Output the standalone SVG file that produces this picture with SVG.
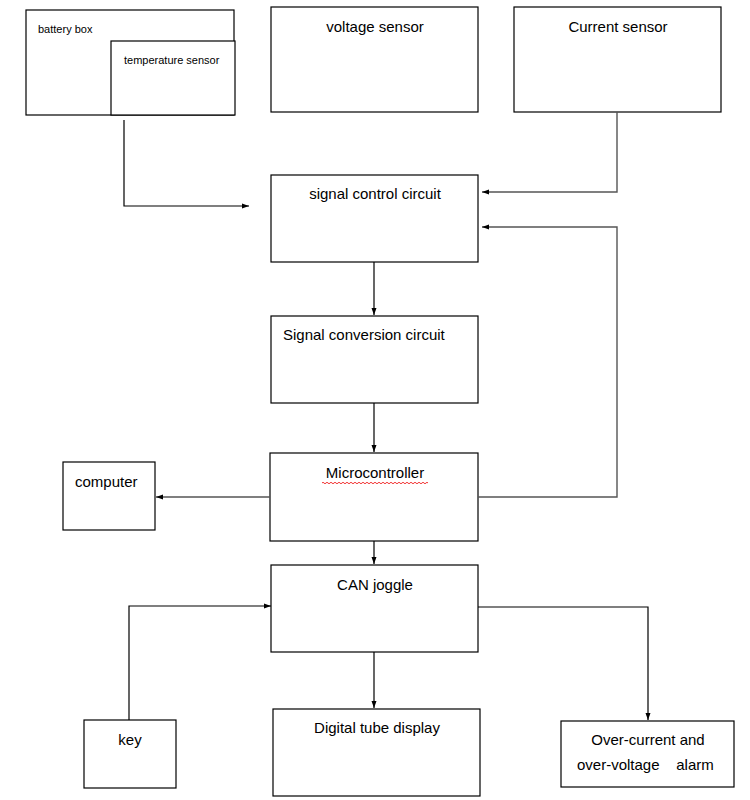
<svg xmlns="http://www.w3.org/2000/svg" width="750" height="800" viewBox="0 0 750 800">
<style>
.box{fill:#fff;stroke:#000;stroke-width:1.2}
.t{font-family:"Liberation Sans",Arial,sans-serif;font-size:15px;fill:#000}
.s{font-family:"Liberation Sans",Arial,sans-serif;font-size:11px;fill:#000}
.c{fill:none;stroke:#000;stroke-width:1.2}
.g{fill:none;stroke:#555;stroke-width:1.4}
</style>
<defs>
<marker id="a" markerWidth="8" markerHeight="8" refX="7" refY="4" orient="auto" markerUnits="userSpaceOnUse">
<path d="M0,1.5 L7,4 L0,6.5 z" fill="#000"/>
</marker>
</defs>
<rect width="750" height="800" fill="#fff"/>
<g id="battery-box"><rect class="box" x="26" y="10" width="208" height="105"/><text class="s" x="38" y="33">battery box</text></g>
<g id="temperature-sensor"><rect class="box" x="111" y="41" width="124" height="74"/><text class="s" x="124" y="64">temperature sensor</text></g>
<g id="voltage-sensor"><rect class="box" x="271" y="7" width="207" height="105"/><text class="t" x="375" y="32" text-anchor="middle">voltage sensor</text></g>
<g id="current-sensor"><rect class="box" x="514" y="7" width="207" height="105"/><text class="t" x="618" y="32" text-anchor="middle">Current sensor</text></g>
<g id="signal-control"><rect class="box" x="271" y="175" width="207" height="87"/><text class="t" x="375" y="199" text-anchor="middle">signal control circuit</text></g>
<g id="signal-conversion"><rect class="box" x="271" y="316" width="207" height="87"/><text class="t" x="283" y="340">Signal conversion circuit</text></g>
<g id="microcontroller"><rect class="box" x="270" y="453" width="208" height="88"/><text class="t" x="375" y="478" text-anchor="middle">Microcontroller</text>
<path d="M322,483 q1,-1.5 2,0 t2,0 t2,0 t2,0 t2,0 t2,0 t2,0 t2,0 t2,0 t2,0 t2,0 t2,0 t2,0 t2,0 t2,0 t2,0 t2,0 t2,0 t2,0 t2,0 t2,0 t2,0 t2,0 t2,0 t2,0 t2,0 t2,0 t2,0 t2,0 t2,0 t2,0 t2,0 t2,0 t2,0 t2,0 t2,0 t2,0 t2,0 t2,0 t2,0 t2,0 t2,0 t2,0 t2,0 t2,0 t2,0 t2,0 t2,0 t2,0 t2,0 t2,0 t2,0 t2,0" fill="none" stroke="#e00" stroke-width="0.8"/></g>
<g id="computer"><rect class="box" x="63" y="462" width="92" height="68"/><text class="t" x="75" y="487">computer</text></g>
<g id="can-joggle"><rect class="box" x="271" y="565" width="207" height="87"/><text class="t" x="375" y="590" text-anchor="middle">CAN joggle</text></g>
<g id="key"><rect class="box" x="84" y="720" width="92" height="68"/><text class="t" x="130" y="745" text-anchor="middle">key</text></g>
<g id="digital-tube"><rect class="box" x="273" y="709" width="207" height="87"/><text class="t" x="377" y="733" text-anchor="middle">Digital tube display</text></g>
<g id="alarm"><rect class="box" x="561" y="721" width="173" height="66"/><text class="t" x="648" y="745" text-anchor="middle">Over-current and</text><text class="t" x="577" y="770" xml:space="preserve">over-voltage    alarm</text></g>
<g id="connectors">
<path class="c" d="M124,120 V206 H249" marker-end="url(#a)"/>
<path class="g" d="M617,112 V192 H482" marker-end="url(#a)"/>
<path class="g" d="M478,497 H617 V227 H482" marker-end="url(#a)"/>
<path class="c" d="M374,262 V315" marker-end="url(#a)"/>
<path class="c" d="M374,403 V452" marker-end="url(#a)"/>
<path class="g" d="M270,497 H156" marker-end="url(#a)"/>
<path class="c" d="M374,541 V564" marker-end="url(#a)"/>
<path class="c" d="M129,720 V606 H271" marker-end="url(#a)"/>
<path class="c" d="M374,652 V708" marker-end="url(#a)"/>
<path class="c" d="M478,607 H648 V720" marker-end="url(#a)"/>
</g>
</svg>
